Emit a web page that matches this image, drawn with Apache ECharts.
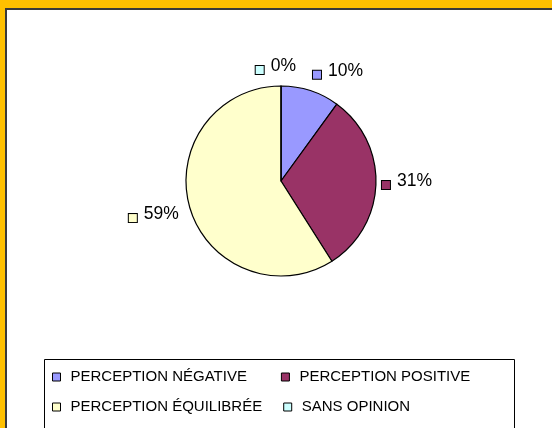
<!DOCTYPE html>
<html>
<head>
<meta charset="utf-8">
<script src="https://cdn.jsdelivr.net/npm/echarts@6/dist/echarts.min.js"></script>
<style>
  html, body { margin: 0; padding: 0; background: #FFC000; }
  #chart { width: 552px; height: 428px; }
</style>
</head>
<body>
<div id="chart"></div>
<script>
// Perception breakdown (percent of answers)
const categories = ['PERCEPTION NÉGATIVE', 'PERCEPTION POSITIVE', 'PERCEPTION ÉQUILIBRÉE', 'SANS OPINION'];
const shares = [10, 31, 59, 0];
const sliceColors = ['#9999FF', '#993366', '#FFFFCC', '#CCFFFF'];

const FONT = "'Liberation Sans', Arial, sans-serif";

// small legend-key squares used inside the slice labels
const rich = { v: { fontFamily: FONT, fontSize: 17.5, color: '#000', padding: [0, 0, 8, 7] } };
sliceColors.forEach((c, i) => {
  rich['sq' + i] = { width: 8, height: 8, backgroundColor: c, borderColor: '#000', borderWidth: 1 };
});

// per-label nudges relative to the default outside placement
const labelShift = [[-3, -14], [-1, 1], [-4, 10], [20, -14]];

const chart = echarts.init(document.getElementById('chart'), null, { renderer: 'canvas' });

const legendBase = {
  left: 52, orient: 'horizontal', icon: 'rect',
  itemWidth: 8, itemHeight: 8, padding: 0, selectedMode: false,
  itemStyle: { borderWidth: 1, borderColor: '#000' },
  textStyle: { fontFamily: FONT, fontSize: 15, color: '#000', lineHeight: 16, padding: [0, 0, 0, 5] }
};

chart.setOption({
  backgroundColor: '#FFC000',
  animation: false,
  graphic: [
    { type: 'rect', shape: { x: 6, y: 9, width: 600, height: 500 },
      style: { fill: '#FFFFFF', stroke: '#3a3a3a', lineWidth: 2 }, z: -10 },
    { type: 'rect', shape: { x: 44.5, y: 359.5, width: 470, height: 80 },
      style: { fill: '#FFFFFF', stroke: '#000000', lineWidth: 1 }, z: -5 }
  ],
  legend: [
    Object.assign({}, legendBase, { data: categories.slice(0, 2), top: 369, itemGap: 34 }),
    Object.assign({}, legendBase, { data: categories.slice(2, 4), top: 399, itemGap: 21 })
  ],
  series: [{
    type: 'pie',
    center: [281, 181],
    radius: 95,
    startAngle: 90,
    clockwise: true,
    avoidLabelOverlap: false,
    itemStyle: { borderColor: '#000', borderWidth: 1.2 },
    emphasis: { disabled: true },
    label: {
      show: true,
      position: 'outside',
      formatter: p => `{sq${p.dataIndex}|}{v|${p.value}%}`,
      rich: rich
    },
    labelLine: { show: false, length: 2, length2: 0 },
    labelLayout: p => {
      const s = labelShift[p.dataIndex];
      return { dx: s[0], dy: s[1] };
    },
    data: categories.map((name, i) => ({
      name: name,
      value: shares[i],
      itemStyle: { color: sliceColors[i] }
    }))
  }]
});
</script>
</body>
</html>
